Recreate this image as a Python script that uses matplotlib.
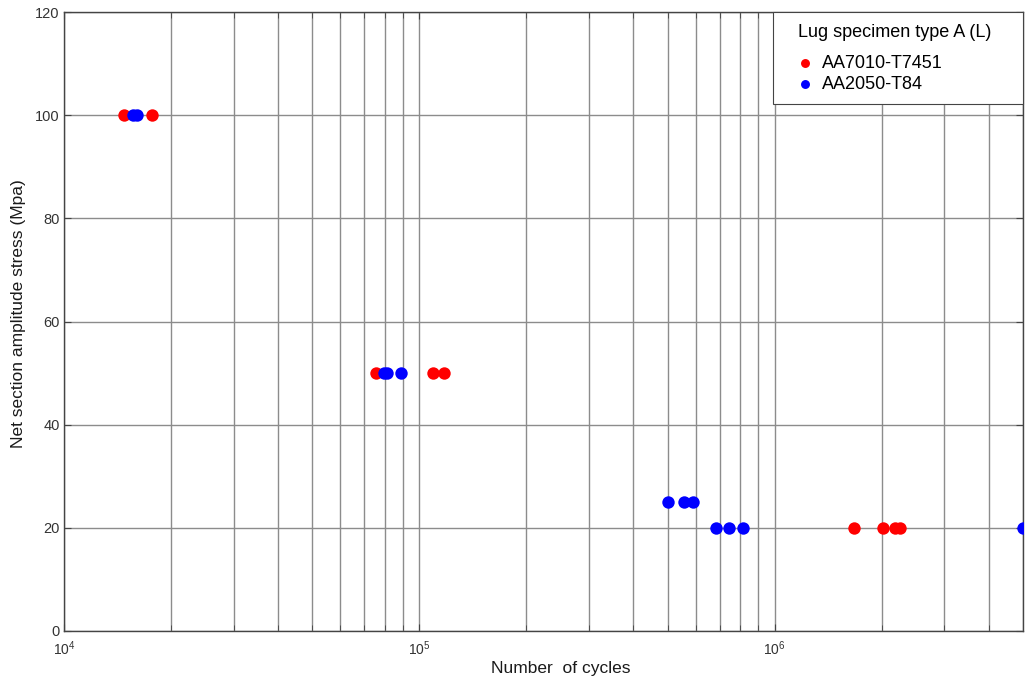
import matplotlib
matplotlib.use("Agg")
import matplotlib.pyplot as plt
from matplotlib.ticker import LogLocator, NullFormatter
from matplotlib.offsetbox import HPacker, VPacker, DrawingArea

plt.rcParams['font.family'] = ['Liberation Sans', 'DejaVu Sans']

# Data
aa7010_cycles = [1.48e4, 1.77e4, 7.53e4, 1.09e5, 1.17e5, 1.67e6, 2.02e6, 2.18e6, 2.25e6]
aa7010_stress = [100, 100, 50, 50, 50, 20, 20, 20, 20]
aa2050_cycles = [1.56e4, 1.60e4, 7.94e4, 8.09e4, 8.88e4, 5.02e5, 5.57e5, 5.90e5,
                 6.82e5, 7.42e5, 8.12e5, 5.0e6]
aa2050_stress = [100, 100, 50, 50, 50, 25, 25, 25, 20, 20, 20, 20]

legend_title = "Lug specimen type A (L)"
series_names = ["AA7010-T7451", "AA2050-T84"]
x_label = "Number  of cycles"
y_label = "Net section amplitude stress (Mpa)"
y_ticks = [0, 20, 40, 60, 80, 100, 120]

fig = plt.figure(figsize=(10.25, 6.79), dpi=100)
ax = fig.add_axes([64/1025, 48/679, (1023-64)/1025, (631-12)/679])

ax.scatter(aa7010_cycles, aa7010_stress, s=80, color='#ff0000', label=series_names[0],
           zorder=3, linewidths=0)
ax.scatter(aa2050_cycles, aa2050_stress, s=80, color='#0000ff', label=series_names[1],
           zorder=3, linewidths=0)

ax.set_xscale('log')
ax.set_xlim(1e4, 5e6)
ax.set_ylim(0, 120)
ax.set_yticks(y_ticks)
ax.xaxis.set_major_locator(LogLocator(base=10, numticks=10))
ax.xaxis.set_minor_locator(LogLocator(base=10, subs=range(2, 10), numticks=20))
ax.xaxis.set_minor_formatter(NullFormatter())

ax.grid(True, which='major', color='#8c8c8c', linewidth=1.0)
ax.grid(True, which='minor', axis='x', color='#8c8c8c', linewidth=1.0)
ax.set_axisbelow(True)

ax.tick_params(axis='both', which='both', direction='in', colors='#444444',
               labelcolor='#333333', top=True, right=True)
ax.tick_params(axis='both', which='major', length=5)
ax.tick_params(axis='both', which='minor', length=4)
ax.tick_params(axis='y', labelsize=10.5, pad=3)
ax.tick_params(axis='x', which='major', labelsize=10, pad=6)
for s in ax.spines.values():
    s.set_color('#444444')
    s.set_linewidth(1.0)

ax.set_xlabel(x_label, fontsize=12.5, color='#1a1a1a')
ax.set_ylabel(y_label, fontsize=12.5, color='#1a1a1a')
ax.xaxis.set_label_coords(0.518, -0.048)
ax.yaxis.set_label_coords(-0.040, 0.512)

leg = ax.legend(title=legend_title, loc='upper right', fontsize=13, title_fontsize=13,
                frameon=True, fancybox=False, edgecolor='#444444', framealpha=1,
                borderaxespad=0.0, handletextpad=0.55, handlelength=0.8,
                markerscale=0.72, borderpad=0.65, labelspacing=0.22)
leg.get_frame().set_linewidth(0.8)

# wider horizontal padding inside the legend frame
inner = VPacker(pad=0, sep=10, align="left",
                children=[leg._legend_title_box, leg._legend_handle_box])
outer = HPacker(pad=8.5, sep=0, align="center",
                children=[DrawingArea(9.5, 1), inner, DrawingArea(14.5, 1)])
outer.set_figure(fig)
outer.axes = ax
outer.set_offset(leg._findoffset)
leg._legend_box = outer

fig.savefig("out.png", dpi=100)
